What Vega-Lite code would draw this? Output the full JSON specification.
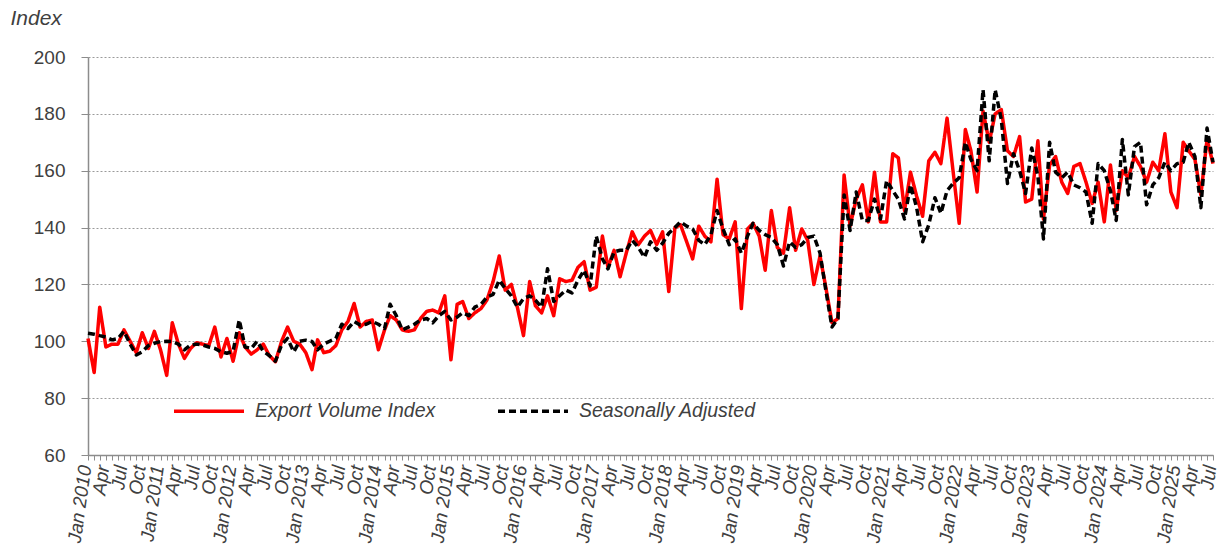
{
"$schema": "https://vega.github.io/schema/vega-lite/v6.json",
"width": 1125, "height": 398,
"autosize": "none",
"padding": {"left": 88, "top": 57, "right": 8, "bottom": 97},
"background": "white",
"config": {"view": {"stroke": null}, "font": "Liberation Sans"},
"data": {"values": [
{"date":"2010-01-01","evi":101,"sa":102.8},{"date":"2010-02-01","evi":89,"sa":102.5},{"date":"2010-03-01","evi":112,"sa":102},{"date":"2010-04-01","evi":98,"sa":101.5},{"date":"2010-05-01","evi":99,"sa":100.5},{"date":"2010-06-01","evi":99,"sa":101},{"date":"2010-07-01","evi":104,"sa":103.5},{"date":"2010-08-01","evi":100,"sa":99},{"date":"2010-09-01","evi":96,"sa":95.2},{"date":"2010-10-01","evi":103,"sa":96.3},{"date":"2010-11-01","evi":97.5,"sa":98.5},{"date":"2010-12-01","evi":103.5,"sa":99.3},
{"date":"2011-01-01","evi":97,"sa":99.9},{"date":"2011-02-01","evi":88,"sa":100},{"date":"2011-03-01","evi":106.5,"sa":99.9},{"date":"2011-04-01","evi":99,"sa":99},{"date":"2011-05-01","evi":94,"sa":97},{"date":"2011-06-01","evi":97.5,"sa":98.7},{"date":"2011-07-01","evi":99.5,"sa":99},{"date":"2011-08-01","evi":99,"sa":98.7},{"date":"2011-09-01","evi":98.5,"sa":98},{"date":"2011-10-01","evi":105,"sa":97.5},{"date":"2011-11-01","evi":94.5,"sa":96.3},{"date":"2011-12-01","evi":101,"sa":95.8},
{"date":"2012-01-01","evi":93,"sa":96.5},{"date":"2012-02-01","evi":103,"sa":107.5},{"date":"2012-03-01","evi":98,"sa":98},{"date":"2012-04-01","evi":95.5,"sa":97.5},{"date":"2012-05-01","evi":97,"sa":100},{"date":"2012-06-01","evi":99,"sa":96.5},{"date":"2012-07-01","evi":95,"sa":95},{"date":"2012-08-01","evi":92.8,"sa":93},{"date":"2012-09-01","evi":100,"sa":98.7},{"date":"2012-10-01","evi":105,"sa":101},{"date":"2012-11-01","evi":100,"sa":96.3},{"date":"2012-12-01","evi":99,"sa":100},
{"date":"2013-01-01","evi":96,"sa":100.4},{"date":"2013-02-01","evi":90,"sa":99.9},{"date":"2013-03-01","evi":100.5,"sa":97},{"date":"2013-04-01","evi":96,"sa":99},{"date":"2013-05-01","evi":96.5,"sa":100},{"date":"2013-06-01","evi":98.5,"sa":101},{"date":"2013-07-01","evi":104,"sa":106},{"date":"2013-08-01","evi":107,"sa":104.5},{"date":"2013-09-01","evi":113.3,"sa":107},{"date":"2013-10-01","evi":105,"sa":105.7},{"date":"2013-11-01","evi":107,"sa":106},{"date":"2013-12-01","evi":107.5,"sa":107},
{"date":"2014-01-01","evi":97,"sa":106},{"date":"2014-02-01","evi":104,"sa":104.5},{"date":"2014-03-01","evi":109,"sa":113},{"date":"2014-04-01","evi":107.5,"sa":109},{"date":"2014-05-01","evi":104,"sa":104},{"date":"2014-06-01","evi":103.5,"sa":105},{"date":"2014-07-01","evi":104,"sa":106},{"date":"2014-08-01","evi":108,"sa":107.5},{"date":"2014-09-01","evi":110.5,"sa":108},{"date":"2014-10-01","evi":111,"sa":106.5},{"date":"2014-11-01","evi":110,"sa":109},{"date":"2014-12-01","evi":116,"sa":110.5},
{"date":"2015-01-01","evi":93.5,"sa":107.5},{"date":"2015-02-01","evi":113,"sa":108.5},{"date":"2015-03-01","evi":114,"sa":110},{"date":"2015-04-01","evi":108,"sa":109},{"date":"2015-05-01","evi":110,"sa":112},{"date":"2015-06-01","evi":111.5,"sa":113},{"date":"2015-07-01","evi":114.5,"sa":115.5},{"date":"2015-08-01","evi":121,"sa":116.5},{"date":"2015-09-01","evi":130,"sa":121.5},{"date":"2015-10-01","evi":118,"sa":118.5},{"date":"2015-11-01","evi":120,"sa":116},{"date":"2015-12-01","evi":112,"sa":112},
{"date":"2016-01-01","evi":102,"sa":115},{"date":"2016-02-01","evi":121,"sa":116},{"date":"2016-03-01","evi":112.5,"sa":114.5},{"date":"2016-04-01","evi":110,"sa":112},{"date":"2016-05-01","evi":116,"sa":125.5},{"date":"2016-06-01","evi":109,"sa":114},{"date":"2016-07-01","evi":122,"sa":116},{"date":"2016-08-01","evi":121,"sa":118},{"date":"2016-09-01","evi":121.5,"sa":117},{"date":"2016-10-01","evi":126,"sa":121.5},{"date":"2016-11-01","evi":128,"sa":125},{"date":"2016-12-01","evi":118,"sa":119.5},
{"date":"2017-01-01","evi":119,"sa":137},{"date":"2017-02-01","evi":137,"sa":129},{"date":"2017-03-01","evi":126,"sa":125.5},{"date":"2017-04-01","evi":132,"sa":131.5},{"date":"2017-05-01","evi":122.7,"sa":132},{"date":"2017-06-01","evi":131,"sa":132},{"date":"2017-07-01","evi":138.5,"sa":135.5},{"date":"2017-08-01","evi":134,"sa":133},{"date":"2017-09-01","evi":137,"sa":129.5},{"date":"2017-10-01","evi":139,"sa":135},{"date":"2017-11-01","evi":134,"sa":132},{"date":"2017-12-01","evi":138.5,"sa":134.5},
{"date":"2018-01-01","evi":117.5,"sa":138},{"date":"2018-02-01","evi":140,"sa":140},{"date":"2018-03-01","evi":141,"sa":142},{"date":"2018-04-01","evi":135,"sa":140.5},{"date":"2018-05-01","evi":129,"sa":139.5},{"date":"2018-06-01","evi":140.5,"sa":135.5},{"date":"2018-07-01","evi":137,"sa":134},{"date":"2018-08-01","evi":135,"sa":137.5},{"date":"2018-09-01","evi":157,"sa":146},{"date":"2018-10-01","evi":137.5,"sa":139.5},{"date":"2018-11-01","evi":136,"sa":134},{"date":"2018-12-01","evi":142,"sa":136},
{"date":"2019-01-01","evi":111.5,"sa":131},{"date":"2019-02-01","evi":139.5,"sa":137},{"date":"2019-03-01","evi":141.5,"sa":141.5},{"date":"2019-04-01","evi":137,"sa":139},{"date":"2019-05-01","evi":125,"sa":137.5},{"date":"2019-06-01","evi":146,"sa":136.5},{"date":"2019-07-01","evi":133,"sa":134},{"date":"2019-08-01","evi":131,"sa":126.5},{"date":"2019-09-01","evi":147,"sa":135},{"date":"2019-10-01","evi":132,"sa":133},{"date":"2019-11-01","evi":139.5,"sa":134},{"date":"2019-12-01","evi":135.5,"sa":136.5},
{"date":"2020-01-01","evi":120,"sa":137},{"date":"2020-02-01","evi":130,"sa":131},{"date":"2020-03-01","evi":119,"sa":118},{"date":"2020-04-01","evi":106.5,"sa":105},{"date":"2020-05-01","evi":108,"sa":108},{"date":"2020-06-01","evi":158.5,"sa":151.5},{"date":"2020-07-01","evi":140.5,"sa":139},{"date":"2020-08-01","evi":150,"sa":152.5},{"date":"2020-09-01","evi":155,"sa":142.5},{"date":"2020-10-01","evi":142,"sa":142.5},{"date":"2020-11-01","evi":159.5,"sa":150},{"date":"2020-12-01","evi":142,"sa":143},
{"date":"2021-01-01","evi":142,"sa":156.5},{"date":"2021-02-01","evi":166,"sa":153},{"date":"2021-03-01","evi":164.5,"sa":150},{"date":"2021-04-01","evi":146,"sa":143},{"date":"2021-05-01","evi":159.5,"sa":155},{"date":"2021-06-01","evi":151,"sa":147},{"date":"2021-07-01","evi":144,"sa":135},{"date":"2021-08-01","evi":163.5,"sa":141},{"date":"2021-09-01","evi":166.5,"sa":150.5},{"date":"2021-10-01","evi":162.5,"sa":145},{"date":"2021-11-01","evi":178.5,"sa":153},{"date":"2021-12-01","evi":160,"sa":155.5},
{"date":"2022-01-01","evi":141.5,"sa":157.5},{"date":"2022-02-01","evi":174.5,"sa":170},{"date":"2022-03-01","evi":167,"sa":164},{"date":"2022-04-01","evi":152.5,"sa":160},{"date":"2022-05-01","evi":181,"sa":188.5},{"date":"2022-06-01","evi":170,"sa":163.5},{"date":"2022-07-01","evi":180,"sa":188.5},{"date":"2022-08-01","evi":181.5,"sa":178},{"date":"2022-09-01","evi":167,"sa":155.5},{"date":"2022-10-01","evi":165,"sa":166},{"date":"2022-11-01","evi":172,"sa":160},{"date":"2022-12-01","evi":149,"sa":152},
{"date":"2023-01-01","evi":150,"sa":168},{"date":"2023-02-01","evi":170.5,"sa":158},{"date":"2023-03-01","evi":143,"sa":136},{"date":"2023-04-01","evi":162,"sa":170},{"date":"2023-05-01","evi":165,"sa":159.5},{"date":"2023-06-01","evi":156,"sa":157.5},{"date":"2023-07-01","evi":152,"sa":159.5},{"date":"2023-08-01","evi":161.5,"sa":155},{"date":"2023-09-01","evi":162.5,"sa":154},{"date":"2023-10-01","evi":156,"sa":152.5},{"date":"2023-11-01","evi":148.5,"sa":141.5},{"date":"2023-12-01","evi":156,"sa":162.5},
{"date":"2024-01-01","evi":142,"sa":160},{"date":"2024-02-01","evi":162,"sa":153},{"date":"2024-03-01","evi":146,"sa":142.5},{"date":"2024-04-01","evi":160,"sa":171},{"date":"2024-05-01","evi":157.5,"sa":151.5},{"date":"2024-06-01","evi":165,"sa":168.5},{"date":"2024-07-01","evi":161.5,"sa":170},{"date":"2024-08-01","evi":156,"sa":148},{"date":"2024-09-01","evi":163,"sa":155},{"date":"2024-10-01","evi":160,"sa":157.5},{"date":"2024-11-01","evi":173,"sa":163},{"date":"2024-12-01","evi":152.5,"sa":160},
{"date":"2025-01-01","evi":147,"sa":162.5},{"date":"2025-02-01","evi":170,"sa":163},{"date":"2025-03-01","evi":167,"sa":170},{"date":"2025-04-01","evi":164,"sa":165},{"date":"2025-05-01","evi":151.5,"sa":147},{"date":"2025-06-01","evi":171,"sa":175},{"date":"2025-07-01","evi":162.5,"sa":163}
]},
"transform": [{"fold": ["evi", "sa"], "as": ["series", "value"]}],
"mark": {"type": "line", "strokeWidth": 3.5, "strokeJoin": "round"},
"encoding": {
  "x": {"field": "date", "type": "temporal",
    "scale": {"type": "utc", "nice": false, "domain": [{"year": 2010, "month": 1, "date": 1, "utc": true}, {"year": 2025, "month": 7, "date": 1, "utc": true}]},
    "axis": {"title": null, "grid": false, "tickCount": {"interval": "month", "step": 1},
      "labelExpr": "utcmonth(datum.value) % 3 != 0 ? '' : (utcmonth(datum.value) == 0 ? 'Jan ' + utcFormat(datum.value, '%Y') : utcFormat(datum.value, '%b'))",
      "labelAngle": -82, "labelAlign": "right", "labelBaseline": "middle", "labelFontSize": 19, "labelFontStyle": "italic",
      "labelColor": "#404040", "labelOverlap": false, "labelPadding": 5, "labelOffset": -3, "labelBound": false, "labelFlush": false,
      "tickSize": 5, "tickColor": "#8c8c8c", "tickWidth": 1, "domainColor": "#8c8c8c", "domainWidth": 1.5}},
  "y": {"field": "value", "type": "quantitative",
    "scale": {"domain": [60, 200], "nice": false, "zero": false},
    "axis": {"title": "Index", "titleAngle": 0, "titleAlign": "left", "titleBaseline": "top", "titleX": -78, "titleY": -50,
      "titleFontSize": 21, "titleFontStyle": "italic", "titleFontWeight": "normal", "titleColor": "#404040",
      "values": [60, 80, 100, 120, 140, 160, 180, 200], "labelFontSize": 19, "labelColor": "#404040", "labelPadding": 16,
      "tickSize": 7, "tickColor": "#8c8c8c", "domainColor": "#8c8c8c", "domainWidth": 1.5,
      "grid": true, "gridColor": "#9a9a9a", "gridDash": [2, 2], "gridWidth": 1}},
  "color": {"field": "series", "type": "nominal",
    "scale": {"domain": ["evi", "sa"], "range": ["#ff0000", "#000000"]},
    "legend": {"orient": "none", "legendX": 84, "legendY": 317, "direction": "horizontal", "title": null,
      "symbolType": "stroke", "symbolSize": 4900, "symbolStrokeWidth": 3.5,
      "labelExpr": "datum.label == 'evi' ? 'Export Volume Index' : 'Seasonally Adjusted'",
      "labelFontSize": 19.5, "labelFontStyle": "italic", "labelColor": "#404040", "labelOffset": 9, "columnPadding": 55, "labelLimit": 400}},
  "strokeDash": {"field": "series", "type": "nominal",
    "scale": {"domain": ["evi", "sa"], "range": [[1, 0], [7, 4]]},
    "legend": {"orient": "none", "legendX": 84, "legendY": 317, "direction": "horizontal", "title": null,
      "symbolType": "stroke", "symbolSize": 4900, "symbolStrokeWidth": 3.5,
      "labelExpr": "datum.label == 'evi' ? 'Export Volume Index' : 'Seasonally Adjusted'",
      "labelFontSize": 19.5, "labelFontStyle": "italic", "labelColor": "#404040", "labelOffset": 9, "columnPadding": 55, "labelLimit": 400}}
}
}
